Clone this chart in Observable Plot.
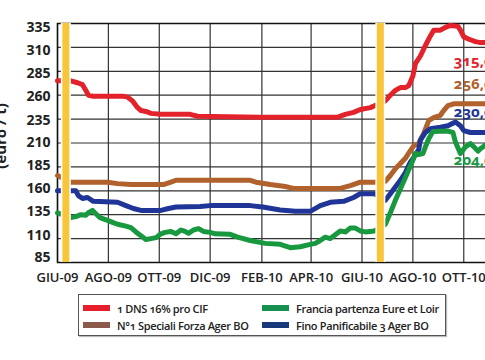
<!DOCTYPE html>
<html><head><meta charset="utf-8">
<script src="https://cdn.jsdelivr.net/npm/d3@7"></script>
<script src="https://cdn.jsdelivr.net/npm/@observablehq/plot@0.6"></script>
<style>
html,body{margin:0;padding:0;background:#fff;}
#wrap{position:relative;width:485px;height:360px;overflow:hidden;background:#fff;}
#chart{position:absolute;left:0;top:0;width:530px;}
#chart svg{max-width:none !important;width:530px;height:290px;}
#ylab{position:absolute;left:-50px;top:128px;width:100px;height:16px;line-height:16px;text-align:center;transform:rotate(-90deg);font-family:"Open Sans",sans-serif;font-weight:700;font-size:15px;color:#222;white-space:nowrap;}
.legend{position:absolute;left:78px;top:294px;width:366px;height:40px;border:1px solid #555;box-shadow:1px 1px 1px #bbb;font-family:"Open Sans",sans-serif;font-weight:600;font-size:11px;letter-spacing:-0.35px;color:#222;font-variant-numeric:oldstyle-nums;}
.item{position:absolute;display:flex;align-items:center;white-space:nowrap;height:16px;}
.sw{display:inline-block;width:27px;height:6px;margin-right:7px;}
</style></head>
<body><div id="wrap"><div id="chart"></div><div id="ylab">(euro / t)</div><div class="legend" id="legend"></div></div>
<script>
const seriesNames = ["1 DNS 16% pro CIF", "N°1 Speciali Forza Ager BO", "Fino Panificabile 3 Ager BO", "Francia partenza Eure et Loir"];
const lineColors = ["#e3222b", "#b0612c", "#1f3597", "#18993f"];
const legendOrder = ["1 DNS 16% pro CIF", "Francia partenza Eure et Loir", "N°1 Speciali Forza Ager BO", "Fino Panificabile 3 Ager BO"];
const legendColors = ["#e5202c", "#17904f", "#8c5a4b", "#17397a"];

const yTicks = [85,110,135,160,185,210,235,260,285,310,335];
const yTickShift = [-5,-3,-3,-2,-1,0,1.5,1.5,2,3,4];
const xTickDates = ["2009-06-01","2009-08-01","2009-10-01","2009-12-01","2010-02-01","2010-04-01","2010-06-01","2010-08-01","2010-10-01","2010-12-01"];
const xTickLabels = ["GIU-09","AGO-09","OTT-09","DIC-09","FEB-10","APR-10","GIU-10","AGO-10","OTT-10","DIC-10"];
const harvestDates = ["2009-06-11","2010-06-23"];

const dnsRed = [["2009-06-01",275],["2009-06-17",275],["2009-06-25",273],["2009-07-01",271],["2009-07-05",265],["2009-07-08",260],["2009-07-13",259],["2009-08-18",259],["2009-08-24",258],["2009-08-30",254],["2009-09-05",247],["2009-09-09",244],["2009-09-15",243],["2009-09-21",241],["2009-10-03",240],["2009-11-07",240],["2009-11-16",238],["2010-01-28",237],["2010-05-03",237],["2010-05-12",240],["2010-05-22",242],["2010-05-30",245],["2010-06-11",247],["2010-06-16",249],["2010-06-29",254],["2010-07-05",260],["2010-07-11",265],["2010-07-17",268],["2010-07-23",268],["2010-07-27",270],["2010-08-01",280],["2010-08-04",293],["2010-08-10",301],["2010-08-16",312],["2010-08-22",322],["2010-08-26",328],["2010-09-03",328],["2010-09-09",331],["2010-09-15",333],["2010-09-24",332],["2010-09-27",328],["2010-10-01",321],["2010-10-06",319],["2010-10-09",318],["2010-10-15",316],["2010-10-21",315],["2010-11-14",315]];
const forzaBrown = [["2009-06-01",176],["2009-06-17",169],["2009-07-31",169],["2009-08-12",167.5],["2009-08-28",166.5],["2009-10-06",166.5],["2009-10-15",169],["2009-10-21",171],["2010-01-18",171],["2010-01-25",169],["2010-02-11",166.5],["2010-03-01",164.5],["2010-03-11",162.5],["2010-05-06",162.5],["2010-05-18",165.5],["2010-05-30",169],["2010-06-16",169],["2010-06-29",170],["2010-07-05",176],["2010-07-11",183],["2010-07-17",188.5],["2010-07-23",194],["2010-07-29",202],["2010-08-02",207],["2010-08-08",209.5],["2010-08-14",220],["2010-08-20",233.5],["2010-08-26",236.5],["2010-09-03",239],["2010-09-07",244],["2010-09-12",249],["2010-09-19",251],["2010-11-14",251]];
const finoBlue = [["2009-06-01",160],["2009-06-23",160],["2009-06-26",155],["2009-07-01",152],["2009-07-07",153],["2009-07-14",149],["2009-08-12",148],["2009-08-22",144.5],["2009-08-31",141.5],["2009-09-09",139.5],["2009-10-03",139.5],["2009-10-12",141.5],["2009-10-21",143],["2009-11-19",143.5],["2009-12-01",144.5],["2010-01-18",144.5],["2010-02-02",143],["2010-02-23",140],["2010-03-13",138.5],["2010-03-31",138.5],["2010-04-12",144.5],["2010-04-24",148],["2010-05-10",149],["2010-05-22",153],["2010-05-30",157],["2010-06-16",157],["2010-06-29",150],["2010-07-05",157],["2010-07-11",164],["2010-07-17",171],["2010-07-23",179],["2010-07-29",190],["2010-08-02",195],["2010-08-08",203],["2010-08-10",213],["2010-08-16",221],["2010-08-22",225],["2010-09-03",226.5],["2010-09-12",228],["2010-09-21",232],["2010-09-27",228],["2010-10-01",223],["2010-10-09",221],["2010-11-14",221]];
const franciaGreen = [["2009-06-01",137],["2009-06-17",132],["2009-06-23",133],["2009-06-29",135],["2009-07-05",134.5],["2009-07-08",137],["2009-07-13",139.5],["2009-07-17",136],["2009-07-22",132],["2009-07-31",129],["2009-08-06",127],["2009-08-12",125],["2009-08-22",123],["2009-08-28",121.5],["2009-09-03",117],["2009-09-09",113],["2009-09-15",109],["2009-09-21",110],["2009-09-27",111],["2009-10-03",115],["2009-10-08",116.5],["2009-10-15",117.5],["2009-10-21",115],["2009-10-27",119],["2009-11-01",117.5],["2009-11-05",115.5],["2009-11-11",119],["2009-11-17",120.5],["2009-11-23",117.5],["2009-12-01",116.5],["2009-12-07",115],["2009-12-25",114.5],["2010-01-03",111.5],["2010-01-18",108],["2010-02-05",105],["2010-02-23",104],["2010-03-07",100.5],["2010-03-19",101.5],["2010-03-31",104],["2010-04-06",105],["2010-04-12",108],["2010-04-18",111.5],["2010-04-24",110],["2010-04-30",114],["2010-05-06",118],["2010-05-12",117],["2010-05-18",121],["2010-05-24",121],["2010-05-30",118],["2010-06-05",117],["2010-06-16",118],["2010-06-29",125],["2010-07-05",137],["2010-07-11",150],["2010-07-17",162],["2010-07-23",174],["2010-07-29",186],["2010-08-02",194],["2010-08-04",199],["2010-08-08",198],["2010-08-13",199],["2010-08-16",206],["2010-08-20",214.5],["2010-08-25",222],["2010-09-12",222.5],["2010-09-18",221],["2010-09-21",211],["2010-09-27",199],["2010-10-03",206],["2010-10-09",209.5],["2010-10-13",206],["2010-10-18",201.5],["2010-10-21",204],["2010-10-27",208],["2010-11-14",208]];

const endLabels = ["315,0","256,0","230,0","204,0"];
const endLabelValues = [296, 271, 242, 192];
const endLabelDate = "2010-09-19";

const parse = d3.utcParse("%Y-%m-%d");
const seriesData = [dnsRed, forzaBrown, finoBlue, franciaGreen];
const rows = seriesData.flatMap((s, i) => s.map(([d, v]) => ({series: seriesNames[i], date: parse(d), value: v})));
const labelRows = endLabels.map((t, i) => ({series: seriesNames[i], label: t, value: endLabelValues[i], date: parse(endLabelDate)}));
const xTicks = xTickDates.map(parse);
const labelMap = new Map(xTicks.map((d, i) => [+d, xTickLabels[i]]));
const harvest = harvestDates.map(parse);

const yAxes = yTicks.map((t, i) => Plot.axisY([t], {tickSize: 0, tickPadding: 7, fontSize: 14, fontWeight: 700, dy: yTickShift[i], label: null}));

const chart = Plot.plot({
  width: 530, height: 290,
  marginLeft: 57, marginRight: 0, marginTop: 23, marginBottom: 28,
  style: {fontFamily: "'Open Sans', sans-serif", fontVariantNumeric: "oldstyle-nums", color: "#222", background: "#fff", maxWidth: "none"},
  x: {type: "utc", domain: [parse("2009-06-01"), parse("2010-12-20")]},
  y: {domain: [85, 335]},
  color: {domain: seriesNames, range: lineColors},
  marks: [
    Plot.gridY(yTicks, {stroke: "#333", strokeOpacity: 1, strokeWidth: 1.2}),
    Plot.gridX(xTicks, {stroke: "#333", strokeOpacity: 1, strokeWidth: 1.2}),
    Plot.frame({stroke: "#111", strokeWidth: 1.5}),
    Plot.line(rows, {x: "date", y: "value", z: "series", stroke: "series", strokeWidth: 5, strokeLinejoin: "round", strokeLinecap: "round"}),
    Plot.ruleX(harvest, {stroke: "#fff", strokeWidth: 10}),
    Plot.ruleX(harvest, {stroke: "#f9c53a", strokeWidth: 7}),
    Plot.text(labelRows, {x: "date", y: "value", text: "label", fill: "series", textAnchor: "start", fontSize: 15, fontWeight: 700}),
    Plot.axisX(xTicks, {tickSize: 0, tickPadding: 10, fontSize: 13, fontWeight: 600, tickFormat: d => labelMap.get(+d), label: null}),
    ...yAxes
  ]
});
document.getElementById("chart").appendChild(chart);

const legend = document.getElementById("legend");
legendOrder.forEach((name, i) => {
  const col = i % 2, row = Math.floor(i / 2);
  const it = document.createElement("div");
  it.className = "item";
  it.style.left = (col ? 183 : 4) + "px";
  it.style.top = (row ? 22 : 5) + "px";
  const sw = document.createElement("span");
  sw.className = "sw"; sw.style.background = legendColors[i];
  it.appendChild(sw);
  it.appendChild(document.createTextNode(name));
  legend.appendChild(it);
});
</script>
</body></html>
